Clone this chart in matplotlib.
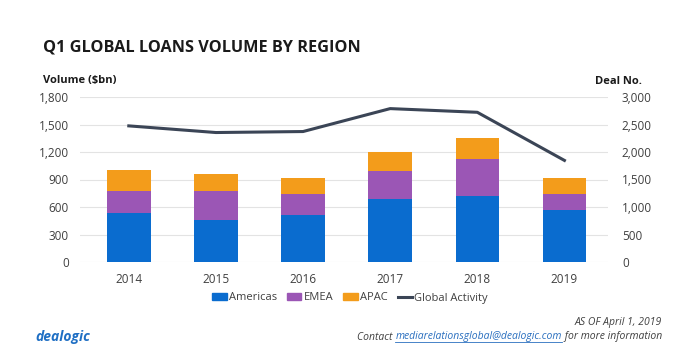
import matplotlib
matplotlib.use("Agg")
import matplotlib.pyplot as plt
from matplotlib.patches import Patch
from matplotlib.lines import Line2D
import numpy as np

# === DATA ===
years = ["2014", "2015", "2016", "2017", "2018", "2019"]
americas = [532, 453, 514, 685, 721, 565]
emea = [239, 318, 225, 311, 405, 181]
apac = [232, 185, 177, 199, 225, 170]
deals = [2475, 2354, 2372, 2789, 2722, 1847]

left_ticks = [0, 300, 600, 900, 1200, 1500, 1800]
right_ticks = [0, 500, 1000, 1500, 2000, 2500, 3000]

# === STYLE ===
C_AM = "#0a6ccf"
C_EM = "#9b56b5"
C_AP = "#f39c1b"
C_LINE = "#3b4556"
GRID = "#e3e3e3"
TXT = "#404040"
FONT = ["Open Sans", "DejaVu Sans"]
plt.rcParams["font.family"] = FONT

fig = plt.figure(figsize=(7, 3.64), dpi=100)
ax = fig.add_axes([80 / 700, 1 - 262 / 364, 528 / 700, 165 / 364])

x = np.arange(len(years))
w = 0.5
b1 = np.array(americas)
b2 = b1 + np.array(emea)
ax.bar(x, americas, w, color=C_AM, zorder=3)
ax.bar(x, emea, w, bottom=b1, color=C_EM, zorder=3)
ax.bar(x, apac, w, bottom=b2, color=C_AP, zorder=3)

ax.set_ylim(0, 1800)
ax.set_yticks(left_ticks)
ax.set_yticklabels([f"{v:,}" for v in left_ticks])
ax.set_xlim(-0.56, 5.5)
ax.set_xticks(x)
ax.set_xticklabels(years)
ax.grid(axis="y", color=GRID, linewidth=0.8, zorder=0)
for s in ax.spines.values():
    s.set_visible(False)
ax.tick_params(length=0, labelsize=8.5, colors=TXT, pad=8)

ax2 = ax.twinx()
ax2.plot(x, deals, color=C_LINE, linewidth=2.2, zorder=4)
ax2.set_ylim(0, 3000)
ax2.set_yticks(right_ticks)
ax2.set_yticklabels([f"{v:,}" for v in right_ticks])
for s in ax2.spines.values():
    s.set_visible(False)
ax2.tick_params(length=0, labelsize=8.5, colors=TXT, pad=10)

# titles
fig.text(43 / 700, 1 - 47 / 364, "Q1 GLOBAL LOANS VOLUME BY REGION",
         fontsize=11.7, fontweight="bold", color="#1a1a1a", va="center")
fig.text(43 / 700, 1 - 81 / 364, "Volume ($bn)", fontsize=8,
         fontweight="bold", color="#1a1a1a", va="center")
fig.text(642 / 700, 1 - 81 / 364, "Deal No.", fontsize=8,
         fontweight="bold", color="#1a1a1a", va="center", ha="right")

# legend
handles = [Patch(color=C_AM, label="Americas"),
           Patch(color=C_EM, label="EMEA"),
           Patch(color=C_AP, label="APAC"),
           Line2D([], [], color=C_LINE, linewidth=2.2, label="Global Activity")]
fig.legend(handles=handles, loc="center", bbox_to_anchor=(350 / 700, 1 - 298 / 364),
           ncol=4, frameon=False, fontsize=8, handlelength=1.3, handleheight=0.6,
           handletextpad=0.2, columnspacing=0.9, labelcolor=TXT)

# footer
fig.text(35 / 700, 1 - 337 / 364, "dealogic", fontsize=10, fontstyle="italic",
         fontweight="bold", color="#1f6fc4", va="center")
fig.text(662 / 700, 1 - 322 / 364, "AS OF April 1, 2019", fontsize=7.5,
         fontstyle="italic", color=TXT, va="center", ha="right")
r = fig.canvas.get_renderer()
t3 = fig.text(662 / 700, 1 - 337 / 364, " for more information", fontsize=7.5,
              fontstyle="italic", color=TXT, va="center", ha="right")
bb = t3.get_window_extent(r)
t2 = fig.text(bb.x0 / 700, 1 - 337 / 364, "mediarelationsglobal@dealogic.com",
              fontsize=7.5, fontstyle="italic", color="#2a6fbf", va="center",
              ha="right")
bb2 = t2.get_window_extent(r)
fig.add_artist(Line2D([bb2.x0 / 700, bb2.x1 / 700],
                      [(bb2.y0 + 1) / 364, (bb2.y0 + 1) / 364],
                      color="#2a6fbf", linewidth=0.6))
fig.text(bb2.x0 / 700, 1 - 337 / 364, "Contact ", fontsize=7.5,
         fontstyle="italic", color=TXT, va="center", ha="right")

fig.savefig("out.png", dpi=100)
